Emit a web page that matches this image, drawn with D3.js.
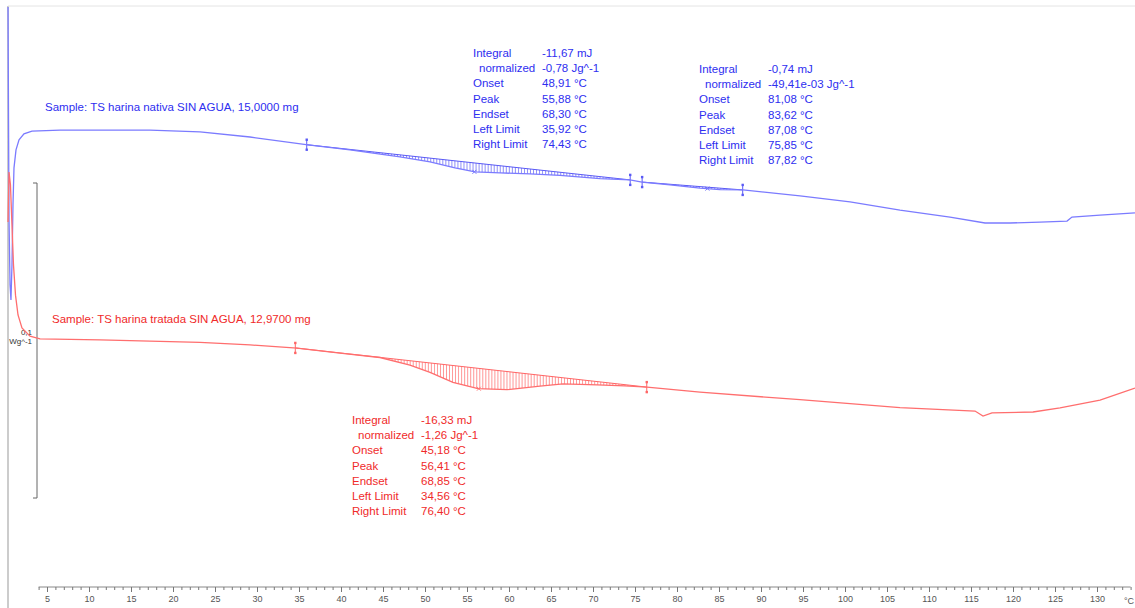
<!DOCTYPE html>
<html>
<head>
<meta charset="utf-8">
<script src="https://cdn.jsdelivr.net/npm/d3@7"></script>
<style>
  body { margin: 0; background: #fff; }
  svg { display: block; font-family: "Liberation Sans", Arial, sans-serif; }
</style>
</head>
<body>
<svg id="chart" width="1135" height="608"></svg>
<script>
// DSC curves, heat flow in W/g (endo down), temperature in °C
const nativaTemp = [0.36, 0.42, 0.48, 0.60, 0.71, 0.83, 0.95, 1.07, 1.31, 1.67, 2.26, 3.21, 6.55, 11.31, 17.26, 23.21, 29.17,
  36.07, 41.07, 47.02, 50.60, 53.57, 55.95, 58.93, 62.50, 66.07, 70.83, 74.40, 75.83, 79.17, 82.74, 85.12, 87.86,
  94.64, 100.60, 106.55, 112.50, 116.67, 119.64, 123.21, 126.43, 127.02, 130.36, 134.52];
const nativaFlow = [0.1559, 0.1200, 0.0883, 0.0676, 0.0629, 0.0740, 0.0930, 0.1048, 0.1105, 0.1137, 0.1156, 0.1165, 0.1168, 0.1168, 0.1168, 0.1162, 0.1146,
  0.1121, 0.1105, 0.1083, 0.1067, 0.1048, 0.1035, 0.1032, 0.1029, 0.1024, 0.1014, 0.1010, 0.1003, 0.0994, 0.0984, 0.0979, 0.0978,
  0.0959, 0.0940, 0.0914, 0.0892, 0.0873, 0.0873, 0.0876, 0.0879, 0.0892, 0.0898, 0.0905];

const tratadaTemp = [0.36, 0.48, 0.65, 0.83, 1.01, 1.25, 1.55, 2.02, 2.98, 4.17, 11.31, 17.26, 23.21, 29.17,
  34.76, 39.88, 44.64, 48.21, 50.60, 53.33, 56.31, 59.76, 63.69, 66.43, 70.48, 73.81, 76.43,
  82.74, 94.64, 106.55, 115.48, 116.43, 117.50, 122.38, 125.60, 130.36, 134.52];
const tratadaFlow = [0.0876, 0.1035, 0.0994, 0.0867, 0.0740, 0.0644, 0.0581, 0.0540, 0.0514, 0.0505, 0.0502, 0.0498, 0.0494, 0.0486,
  0.0476, 0.0460, 0.0446, 0.0422, 0.0399, 0.0367, 0.0347, 0.0344, 0.0355, 0.0362, 0.0359, 0.0356, 0.0352,
  0.0336, 0.0312, 0.0287, 0.0276, 0.0260, 0.0270, 0.0273, 0.0286, 0.0311, 0.0349];

// integration limits [left, right, peak]
const nativaPeaks = [[35.92, 74.43, 55.88], [75.85, 87.82, 83.62]];
const tratadaPeaks = [[34.56, 76.40, 56.41]];

const resultLabels = ["Integral", "normalized", "Onset", "Peak", "Endset", "Left Limit", "Right Limit"];
const nativaResults1 = ["-11,67 mJ", "-0,78 Jg^-1", "48,91 °C", "55,88 °C", "68,30 °C", "35,92 °C", "74,43 °C"];
const nativaResults2 = ["-0,74 mJ", "-49,41e-03 Jg^-1", "81,08 °C", "83,62 °C", "87,08 °C", "75,85 °C", "87,82 °C"];
const tratadaResults = ["-16,33 mJ", "-1,26 Jg^-1", "45,18 °C", "56,41 °C", "68,85 °C", "34,56 °C", "76,40 °C"];

const tempTicks = d3.range(5, 131, 5);
const scaleBar = [0, 0.1];

const blueText = "#2e2ef0", blueLine = "#7b7bff", blueHatch = "#5a5af5";
const redText = "#f02a2a", redLine = "#ff6e6e", redHatch = "#ff6666";

const svg = d3.select("#chart");
const x = d3.scaleLinear().domain([0, 134.5]).range([5, 1134.8]);
const y = d3.scaleLinear().domain([0, 0.1]).range([498, 183]);

// frame
svg.append("line").attr("x1", 8).attr("x2", 8).attr("y1", 6).attr("y2", 608)
  .attr("stroke", "#999").attr("stroke-width", 1);
svg.append("line").attr("x1", 8).attr("x2", 1135).attr("y1", 6).attr("y2", 6)
  .attr("stroke", "#e4e4e4").attr("stroke-width", 1);

// x axis
const axisY = 587;
svg.append("line").attr("x1", x(4)).attr("x2", x(134)).attr("y1", axisY).attr("y2", axisY)
  .attr("stroke", "#888");
const minor = svg.append("g").attr("transform", `translate(0,${axisY})`)
  .call(d3.axisBottom(x).tickValues(d3.range(4, 135, 1)).tickSize(3).tickSizeOuter(0).tickFormat(""));
const major = svg.append("g").attr("transform", `translate(0,${axisY})`)
  .call(d3.axisBottom(x).tickValues(tempTicks).tickSize(5).tickSizeOuter(0).tickPadding(4).tickFormat(d3.format("d")));
[minor, major].forEach(g => {
  g.select(".domain").remove();
  g.selectAll("line").attr("stroke", "#777");
});
major.selectAll("text").attr("fill", "#555").style("font-size", "9px");
svg.append("text").attr("x", 1134).attr("y", axisY + 17).attr("text-anchor", "end")
  .attr("fill", "#555").style("font-size", "9px").text("°C");

// scale bar 0,1 W/g
const sb = svg.append("g").attr("stroke", "#666").attr("fill", "none");
sb.append("line").attr("x1", 37).attr("x2", 37).attr("y1", y(scaleBar[1])).attr("y2", y(scaleBar[0]));
scaleBar.forEach(v => sb.append("line").attr("x1", 33).attr("x2", 37).attr("y1", y(v)).attr("y2", y(v)));
svg.append("text").attr("x", 32).attr("y", 335).attr("text-anchor", "end").style("font-size", "8px")
  .attr("fill", "#333").text("0,1");
svg.append("text").attr("x", 32).attr("y", 344).attr("text-anchor", "end").style("font-size", "8px")
  .attr("fill", "#333").text("Wg^-1");

const interp = (temps, flows, t) => {
  const i = Math.max(1, d3.bisectLeft(temps, t));
  const t0 = temps[i - 1], t1 = temps[i];
  const k = (t - t0) / (t1 - t0);
  return flows[i - 1] + k * (flows[i] - flows[i - 1]);
};

function drawSample(temps, flows, peaks, lineColor, hatchColor) {
  const pts = temps.map((t, i) => [t, flows[i]]);
  const g = svg.append("g");

  peaks.forEach(([lo, hi, pk]) => {
    const v0 = interp(temps, flows, lo), v1 = interp(temps, flows, hi);
    const base = t => v0 + (t - lo) / (hi - lo) * (v1 - v0);
    const hatch = d3.range(lo, hi, 0.36);
    g.selectAll(null).data(hatch).enter().append("line")
      .attr("x1", d => x(d)).attr("x2", d => x(d))
      .attr("y1", d => y(base(d))).attr("y2", d => y(interp(temps, flows, d)))
      .attr("stroke", hatchColor).attr("stroke-width", 0.8).attr("opacity", 0.85);
    g.append("line").attr("x1", x(lo)).attr("x2", x(hi)).attr("y1", y(v0)).attr("y2", y(v1))
      .attr("stroke", hatchColor).attr("stroke-width", 1);
    // limit markers
    [[lo, v0], [hi, v1]].forEach(([t, v]) => {
      const cx = x(t), cy = y(v);
      g.append("line").attr("x1", cx).attr("x2", cx).attr("y1", cy - 5).attr("y2", cy + 5)
        .attr("stroke", hatchColor).attr("stroke-width", 1);
      [cy - 5, cy + 5].forEach(yy => g.append("rect").attr("x", cx - 1.2).attr("y", yy - 1.2)
        .attr("width", 2.4).attr("height", 2.4).attr("fill", hatchColor));
    });
    // peak cross
    const px = x(pk), py = y(interp(temps, flows, pk));
    g.append("path").attr("d", `M${px - 2},${py - 2}L${px + 2},${py + 2}M${px - 2},${py + 2}L${px + 2},${py - 2}`)
      .attr("stroke", hatchColor).attr("stroke-width", 0.8);
  });

  g.append("path").datum(pts)
    .attr("d", d3.line().x(d => x(d[0])).y(d => y(d[1])))
    .attr("fill", "none").attr("stroke", lineColor).attr("stroke-width", 1.3);
}

drawSample(nativaTemp, nativaFlow, nativaPeaks, blueLine, blueHatch);
drawSample(tratadaTemp, tratadaFlow, tratadaPeaks, redLine, redHatch);

// sample labels
svg.append("text").attr("x", 45).attr("y", 111).attr("fill", blueText).style("font-size", "11.5px")
  .text("Sample: TS harina nativa SIN AGUA, 15,0000 mg");
svg.append("text").attr("x", 52).attr("y", 323).attr("fill", redText).style("font-size", "11.5px")
  .text("Sample: TS harina tratada SIN AGUA, 12,9700 mg");

function resultBlock(x0, y0, values, color) {
  const g = svg.append("g").attr("fill", color).style("font-size", "11.5px");
  resultLabels.forEach((lab, i) => {
    g.append("text").attr("x", x0 + (i === 1 ? 6 : 0)).attr("y", y0 + i * 15.2).text(lab);
    g.append("text").attr("x", x0 + 69).attr("y", y0 + i * 15.2).text(values[i]);
  });
}
resultBlock(473, 57, nativaResults1, blueText);
resultBlock(699, 73, nativaResults2, blueText);
resultBlock(352, 424, tratadaResults, redText);
</script>
</body>
</html>
